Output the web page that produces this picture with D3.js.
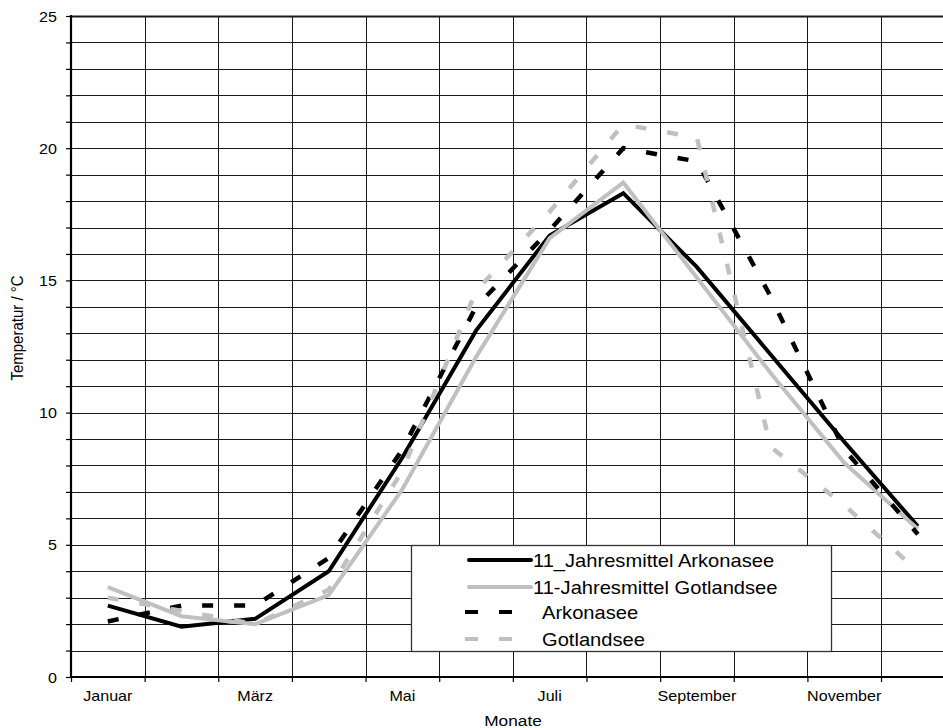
<!DOCTYPE html>
<html>
<head>
	<meta charset="utf-8">
	<title>Temperatur Arkonasee / Gotlandsee</title>
	<style type="text/css">
	body { margin:0; background:#fff; }
	svg text { font-family: "Liberation Sans", Arial, sans-serif; fill:#000; }
	</style>
</head>
<body>
	<div id="chart"></div>
	<script src="https://d3js.org/d3.v7.min.js"></script>
	<script type="text/javascript">
	// Daten
	var monate = ["Januar","Februar","März","April","Mai","Juni","Juli","August","September","Oktober","November","Dezember"];
	var mittelArkona  = [2.7, 1.9, 2.2, 4.0, 8.3, 13.1, 16.7, 18.3, 15.5, 12.2, 8.9, 5.7];
	var mittelGotland = [3.4, 2.3, 2.0, 3.1, 7.1, 12.1, 16.6, 18.7, 15.1, 11.5, 8.1, 5.6];
	var arkona        = [2.1, 2.7, 2.7, 4.5, 8.6, 14.0, 16.9, 20.0, 19.5, 14.4, 8.6, 5.4];
	var gotland       = [3.0, 2.5, 2.0, 3.3, 7.8, 14.6, 17.6, 20.9, 20.4, 8.7, 6.5, 4.0];
	var yTicks = d3.range(0, 26);
	var yLabels = [0, 5, 10, 15, 20, 25];
	var xLabels = ["Januar","März","Mai","Juli","September","November"];

	var serien = [
		{name:"11_Jahresmittel Arkonasee", werte:mittelArkona, farbe:"#000", dash:null},
		{name:"11-Jahresmittel Gotlandsee", werte:mittelGotland, farbe:"#c0c0c0", dash:null},
		{name:"Arkonasee", werte:arkona, farbe:"#000", dash:"11,21"},
		{name:"Gotlandsee", werte:gotland, farbe:"#c0c0c0", dash:"11,21"}
	];

	var W = 943, H = 728;
	var pLeft = 71, pTop = 16, pBottom = 677, pRight = 71 + 12*73.64;
	var stretch = 1.15; // Schrift ist im Original etwas breit gezogen

	var svg = d3.select("#chart").append("svg")
		.attr("width", W).attr("height", H);

	var x = d3.scaleBand().domain(monate).range([pLeft, pRight]).padding(0);
	var xb = d3.scaleLinear().domain([0, 12]).range([pLeft, pRight]);
	var y = d3.scaleLinear().domain([0, 25]).range([pBottom, pTop]);

	// Gitter
	svg.append("g").selectAll("line")
		.data(yTicks.slice(1))
		.enter().append("line")
		.attr("x1", pLeft).attr("x2", pRight)
		.attr("y1", function(d){ return Math.round(y(d)) + 0.5; })
		.attr("y2", function(d){ return Math.round(y(d)) + 0.5; })
		.attr("stroke", "#1a1a1a").attr("stroke-width", function(d){ return d == 25 ? 2 : 1; });
	svg.append("g").selectAll("line")
		.data(d3.range(1, 12))
		.enter().append("line")
		.attr("x1", function(d){ return Math.round(xb(d)) + 0.5; })
		.attr("x2", function(d){ return Math.round(xb(d)) + 0.5; })
		.attr("y1", pTop).attr("y2", pBottom)
		.attr("stroke", "#1a1a1a").attr("stroke-width", 1);

	// Achsen
	var yAxis = svg.append("g")
		.attr("transform", "translate(" + pLeft + ",0)")
		.call(d3.axisLeft(y).tickValues(yTicks).tickSize(5)
			.tickFormat(function(d){ return yLabels.indexOf(d) >= 0 ? d : ""; }));
	yAxis.select(".domain").remove();
	yAxis.selectAll(".tick line").attr("stroke", "#000").attr("stroke-width", 1.2);
	yAxis.selectAll(".tick text")
		.attr("x", -14 / stretch).attr("dy", "0.36em")
		.attr("transform", "scale(" + stretch + ",1)")
		.attr("font-size", 14).attr("font-family", "Liberation Sans, Arial, sans-serif");

	var xAxis = svg.append("g")
		.attr("transform", "translate(0," + pBottom + ")")
		.call(d3.axisBottom(xb).tickValues(d3.range(0, 13)).tickSize(5).tickFormat(""));
	xAxis.select(".domain").remove();
	xAxis.selectAll(".tick line").attr("stroke", "#000").attr("stroke-width", 1.2);

	svg.append("line").attr("x1", pLeft).attr("x2", pLeft).attr("y1", pTop - 1).attr("y2", pBottom + 1)
		.attr("stroke", "#000").attr("stroke-width", 2.2);
	svg.append("line").attr("x1", pLeft).attr("x2", pRight).attr("y1", pBottom).attr("y2", pBottom)
		.attr("stroke", "#000").attr("stroke-width", 2.2);

	svg.append("g").selectAll("text")
		.data(xLabels)
		.enter().append("text")
		.attr("transform", function(d){
			return "translate(" + (x(d) + x.bandwidth()/2) + ",701) scale(" + stretch + ",1)";
		})
		.attr("text-anchor", "middle").attr("font-size", 14)
		.text(function(d){ return d; });

	svg.append("text")
		.attr("transform", "translate(513,726) scale(" + stretch + ",1)")
		.attr("text-anchor", "middle").attr("font-size", 15)
		.text("Monate");

	svg.append("text")
		.attr("transform", "translate(23,328) rotate(-90) scale(1," + stretch + ")")
		.attr("text-anchor", "middle").attr("font-size", 15)
		.text("Temperatur / °C");

	// Linien
	var line = d3.line()
		.x(function(d, i){ return x(monate[i]) + x.bandwidth()/2; })
		.y(function(d){ return y(d); });

	svg.append("g").selectAll("path")
		.data(serien)
		.enter().append("path")
		.attr("d", function(s){ return line(s.werte); })
		.attr("fill", "none")
		.attr("stroke", function(s){ return s.farbe; })
		.attr("stroke-width", function(s){ return s.dash ? 4.5 : 4; })
		.attr("stroke-linejoin", "miter")
		.attr("stroke-dasharray", function(s){ return s.dash; });

	// Legende
	var lg = svg.append("g");
	lg.append("rect").attr("x", 411.5).attr("y", 545.5).attr("width", 420).attr("height", 106)
		.attr("fill", "#fff").attr("stroke", "#333").attr("stroke-width", 1.3);
	var rowY = [560, 587, 612, 639];
	serien.forEach(function(s, i){
		if (s.dash) {
			lg.append("line").attr("x1", 465).attr("x2", 513).attr("y1", rowY[i]).attr("y2", rowY[i])
				.attr("stroke", s.farbe).attr("stroke-width", 4).attr("stroke-dasharray", "13,21");
		} else {
			lg.append("line").attr("x1", 469).attr("x2", 531).attr("y1", rowY[i]).attr("y2", rowY[i])
				.attr("stroke", s.farbe).attr("stroke-width", 4).attr("stroke-linecap", "round");
		}
		lg.append("text")
			.attr("transform", "translate(" + (s.dash ? 542 : 533) + "," + (rowY[i] + 6.5) + ") scale(" + stretch + ",1)")
			.attr("font-size", 17.5)
			.text(s.name);
	});
	</script>
</body>
</html>
